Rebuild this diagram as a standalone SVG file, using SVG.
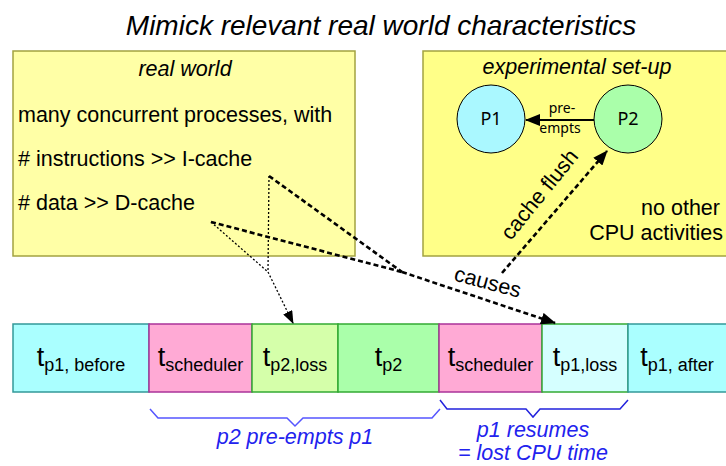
<svg xmlns="http://www.w3.org/2000/svg" width="726" height="466" viewBox="0 0 726 466">
<style>
text{font-family:"Liberation Sans",Arial,sans-serif;fill:#000}
.it{font-style:italic}
.f21{font-size:21.5px}
.cal{font-family:"Noto Sans","Open Sans",sans-serif}
.seg{stroke-width:1.5}
.t{font-size:27px}
.sub{font-size:18px}
.thick{fill:none;stroke:#000;stroke-width:2.6;stroke-dasharray:5 3}
.thin{fill:none;stroke:#000;stroke-width:1.3;stroke-dasharray:2 2}
.blue{fill:#2222EE}
</style>
<defs>
<marker id="ah" markerUnits="userSpaceOnUse" markerWidth="16" markerHeight="12" refX="14" refY="6" orient="auto"><path d="M0,0 L15,6 L0,12 Z" fill="#000"/></marker>
<marker id="ahs" markerUnits="userSpaceOnUse" markerWidth="14" markerHeight="10" refX="12" refY="5" orient="auto"><path d="M0,0 L13,5 L0,10 Z" fill="#000"/></marker>
</defs>

<text class="it" x="381" y="35" font-size="28" text-anchor="middle">Mimick relevant real world characteristics</text>

<g id="realworld">
<rect x="13" y="51" width="342" height="205" fill="#FFFFA6" stroke="#A3A340" stroke-width="1.5"/>
<text class="it f21" x="185" y="76" text-anchor="middle">real world</text>
<text class="f21" x="18" y="122">many concurrent processes, with</text>
<text class="f21" x="18" y="166"># instructions &gt;&gt; I-cache</text>
<text class="f21" x="18" y="210"># data &gt;&gt; D-cache</text>
</g>

<g id="setup">
<rect x="423" y="51" width="310" height="205" fill="#FFFF88" stroke="#A3A340" stroke-width="1.5"/>
<text class="it f21" x="577" y="74" text-anchor="middle">experimental set-up</text>
<text class="f21" x="720" y="215" text-anchor="end">no other</text>
<text class="f21" x="723" y="240" text-anchor="end">CPU activities</text>
</g>

<g id="P1">
<circle cx="491" cy="119" r="34" fill="#AAF8FF" stroke="#000" stroke-width="1"/>
<text class="cal" x="491" y="125" font-size="18" text-anchor="middle">P1</text>
</g>
<g id="P2">
<circle cx="628" cy="119" r="34" fill="#AAFFAA" stroke="#000" stroke-width="1"/>
<text class="cal" x="628" y="125" font-size="18" text-anchor="middle">P2</text>
</g>

<g id="timeline">
<g id="s1"><rect class="seg" x="13" y="324" width="136" height="68" fill="#AAFFFF" stroke="#339999"/>
<text x="81" y="366" text-anchor="middle"><tspan class="t">t</tspan><tspan class="sub" dy="5">p1, before</tspan></text></g>
<g id="s2"><rect class="seg" x="149" y="324" width="103" height="68" fill="#FFAAD5" stroke="#AA3399"/>
<text x="200.5" y="366" text-anchor="middle"><tspan class="t">t</tspan><tspan class="sub" dy="5">scheduler</tspan></text></g>
<g id="s3"><rect class="seg" x="252" y="324" width="86" height="68" fill="#D5FFAA" stroke="#33AA33"/>
<text x="295" y="366" text-anchor="middle"><tspan class="t">t</tspan><tspan class="sub" dy="5">p2,loss</tspan></text></g>
<g id="s4"><rect class="seg" x="338" y="324" width="101" height="68" fill="#AAFFAA" stroke="#33AA33"/>
<text x="388.5" y="366" text-anchor="middle"><tspan class="t">t</tspan><tspan class="sub" dy="5">p2</tspan></text></g>
<g id="s5"><rect class="seg" x="439" y="324" width="103" height="68" fill="#FFAAD5" stroke="#AA3399"/>
<text x="490.5" y="366" text-anchor="middle"><tspan class="t">t</tspan><tspan class="sub" dy="5">scheduler</tspan></text></g>
<g id="s6"><rect class="seg" x="542" y="324" width="86" height="68" fill="#D5FFFF" stroke="#33AA33"/>
<text x="585" y="366" text-anchor="middle"><tspan class="t">t</tspan><tspan class="sub" dy="5">p1,loss</tspan></text></g>
<g id="s7"><rect class="seg" x="628" y="324" width="110" height="68" fill="#AAFFFF" stroke="#339999"/>
<text x="677" y="366" text-anchor="middle"><tspan class="t">t</tspan><tspan class="sub" dy="5">p1, after</tspan></text></g>
</g>

<g id="braces">
<path d="M150,409 L158,418 L287,418 L295,426 L303,418 L432,418 L440,409" fill="none" stroke="#5555FF" stroke-width="1.5"/>
<path d="M440,400 L447,409 L526,409 L533,417 L540,409 L620,409 L628,400" fill="none" stroke="#2222DD" stroke-width="1.5"/>
<text class="it f21 blue" x="295" y="444" text-anchor="middle">p2 pre-empts p1</text>
<text class="it f21 blue" x="533" y="437" text-anchor="middle">p1 resumes</text>
<text class="it f21 blue" x="533" y="460" text-anchor="middle">= lost CPU time</text>
</g>

<g id="connectors">
<line x1="594" y1="120" x2="526" y2="120" stroke="#000" stroke-width="2.2" marker-end="url(#ah)"/>
<text class="cal" x="562" y="113" font-size="14" text-anchor="middle">pre-</text>
<text class="cal" x="560" y="133" font-size="14" text-anchor="middle">empts</text>

<path class="thick" d="M502,273 L607,151" marker-end="url(#ah)"/>
<text class="f21" transform="translate(545,199) rotate(-51)" text-anchor="middle">cache flush</text>

<path class="thick" d="M269,176 L402,272"/>
<path class="thick" d="M211,222 L402,272"/>
<path class="thick" d="M402,272 L555,323" marker-end="url(#ah)"/>
<text class="f21" transform="translate(486,289) rotate(15)" text-anchor="middle">causes</text>

<path class="thin" d="M269,176 L268,272"/>
<path class="thin" d="M211,222 L268,272"/>
<path class="thin" d="M268,272 L293,323" marker-end="url(#ahs)"/>
</g>
</svg>
